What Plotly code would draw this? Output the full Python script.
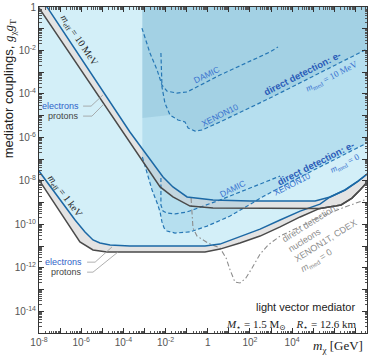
import plotly.graph_objects as go

# ---------------- data: log10(m_chi / GeV) and log10(g_chi g_T) -------------
# NS capture bounds, m_eff = 10 MeV
e10_logm = [-7.70, -3.69, -2.12, -1.65, -0.98, 0.25, 2.00, 4.23, 5.09, 5.80, 6.51, 7.13, 7.60]
e10_logg = [0.12, -5.75, -7.82, -8.28, -8.74, -8.88, -8.93, -8.95, -8.93, -8.74, -8.42, -8.01, -7.65]
p10_logm = [-8.10, -3.69, -2.26, -1.65, -0.84, 0.25, 5.32, 6.32, 6.84, 7.22, 7.60]
p10_logg = [0.10, -6.26, -8.28, -8.74, -9.16, -9.25, -9.27, -9.11, -8.79, -8.42, -8.02]
# NS capture bounds, m_eff = 1 keV
e1_logm = [-8.10, -8.00, -7.00, -6.29, -5.82, -5.44, -5.11, -4.63, -3.69, -0.13, 0.58, 1.53, 2.48,
           3.43, 4.38, 5.32, 5.80, 6.51, 7.13, 7.60]
e1_logg = [-7.42, -7.55, -8.88, -9.80, -10.35, -10.72, -10.86, -10.95, -11.00, -11.00, -10.91, -10.58,
           -10.22, -9.80, -9.39, -9.07, -8.74, -8.42, -8.01, -7.65]
p1_logm = [-8.10, -8.00, -7.00, -6.06, -5.44, -4.78, -0.13, 0.58, 1.53, 2.48, 3.43, 4.38, 5.23, 5.32,
           6.32, 6.84, 7.22, 7.60]
p1_logg = [-7.82, -7.96, -9.43, -10.81, -11.18, -11.27, -11.27, -11.14, -10.86, -10.54, -10.12, -9.66,
           -9.30, -9.27, -9.11, -8.79, -8.42, -8.02]
# direct detection, electrons, m_med = 0
xe0_logm = [-3.10, -2.88, -2.64, -2.40, -2.26, -2.17, -2.07, -1.93, -1.55, -0.84, -0.03, 1.06, 2.67,
            4.00, 5.80, 7.60]
xe0_logg = [-6.90, -7.59, -8.42, -9.02, -9.43, -9.89, -10.17, -10.31, -10.40, -10.35, -10.08, -9.62,
            -8.70, -8.01, -7.13, -6.23]
da0_logm = [-2.22, -2.22, -2.12, -1.93, -1.55, -0.98, 0.58, 2.15, 3.43]
da0_logg = [-7.87, -9.11, -9.39, -9.48, -9.52, -9.43, -8.88, -8.28, -7.78]
# direct detection, electrons, m_med = 10 MeV
xe10_logm = [-2.22, -2.17, -2.03, -1.79, -1.41, -1.08, -0.93, -0.60, -0.27, 0.58, 2.95, 7.60]
xe10_logg = [-2.12, -3.68, -4.42, -4.97, -5.20, -5.29, -5.57, -5.71, -5.66, -5.29, -4.19, -1.91]
da10_logm = [-3.12, -2.74, -2.40, -2.17, -1.93, -1.46, -0.98, 0.58, 2.95, 3.33]
da10_logg = [-0.97, -2.12, -2.90, -3.59, -3.87, -3.96, -3.91, -3.13, -2.07, -1.84]
# direct detection, nucleons (XENON1T, CDEX), m_med = 0
nu_logm = [-0.79, -0.75, -0.70, -0.51, 0.01, 0.58, 0.87, 1.06, 1.29, 1.53, 1.81, 2.10, 2.48, 2.86,
           3.43, 4.42, 5.18, 6.51, 7.55]
nu_logg = [-8.79, -9.57, -10.17, -10.54, -10.86, -11.09, -11.55, -12.10, -12.66, -12.70, -12.47,
           -12.01, -11.37, -10.95, -10.54, -10.08, -9.71, -9.20, -8.84]
# left edge / lower-left corner of the darker direct-detection shading
dd_edge_logm = -3.10
dd10_corner_logg = -5.11

# tick labels
x_tick_exp = list(range(-8, 8))
y_tick_exp = list(range(-15, 1))


def sup_label(k):
    return "1" if k == 0 else "10<sup>%d</sup>" % k


x_ticktext = [sup_label(k) if (k % 2 == 0 and k <= 4) else "" for k in x_tick_exp]
y_ticktext = [sup_label(k) if (k % 2 == 0 and k >= -14) else "" for k in y_tick_exp]

# ---------------- styling ----------------
SANS = "Liberation Sans, Arial, Helvetica, sans-serif"
SERIF = "Liberation Serif, DejaVu Serif, Times New Roman, serif"
CYAN = "#d3eff8"
BAND = "#e3e3e3"
DD0_FILL = "rgba(80,170,210,0.22)"
DD10_FILL = "rgba(70,140,175,0.17)"
BLUE = "#1b68a5"
DARK = "#4a4a4a"
DASH_BLUE = "#2677b5"
NUC_GRAY = "#8c8c8c"
LABEL_BLUE = "#3b74cf"
TOP = 0.1
RIGHT = 7.6
LEFT = -8.1


def pw(a):
    return [10.0 ** v for v in a]


fig = go.Figure()


def fill(xs, ys, color):
    fig.add_trace(go.Scatter(x=pw(xs), y=pw(ys), mode="lines", fill="toself", fillcolor=color,
                             line=dict(width=0), hoverinfo="skip", showlegend=False))


def line(xs, ys, color, width, dash="solid"):
    fig.add_trace(go.Scatter(x=pw(xs), y=pw(ys), mode="lines",
                             line=dict(color=color, width=width, dash=dash),
                             hoverinfo="skip", showlegend=False))


# excluded region (m_eff = 1 keV electrons)
fill(e1_logm + [RIGHT, LEFT], e1_logg + [TOP, TOP], CYAN)
# grey bands between electron and proton curves
fill(e1_logm + p1_logm[::-1], e1_logg + p1_logg[::-1], BAND)
fill(e10_logm + p10_logm[::-1], e10_logg + p10_logg[::-1], BAND)
# direct detection shadings
fill([dd_edge_logm] + xe0_logm + [RIGHT, dd_edge_logm],
     [TOP] + xe0_logg + [TOP, TOP], DD0_FILL)
fill([dd_edge_logm, dd_edge_logm] + xe10_logm[3:] + [RIGHT],
     [TOP, dd10_corner_logg] + xe10_logg[3:] + [TOP], DD10_FILL)

# dashed direct-detection curves
for xs, ys in [(xe10_logm, xe10_logg), (da10_logm, da10_logg), (xe0_logm, xe0_logg), (da0_logm, da0_logg)]:
    line(xs, ys, DASH_BLUE, 1.2, "4px,2.5px")
line(nu_logm, nu_logg, NUC_GRAY, 1.1, "5px,2.5px,1.5px,2.5px")

# capture curves
line(p1_logm, p1_logg, DARK, 1.5)
line(e1_logm, e1_logg, BLUE, 1.5)
line(p10_logm, p10_logg, DARK, 1.5)
line(e10_logm, e10_logg, BLUE, 1.5)

# leader lines of the electrons / protons labels
LEAD = "#9a9a9a"
line([-5.91, -5.53, -4.97], [-4.56, -4.56, -4.05], LEAD, 0.8)
line([-5.91, -5.49, -4.92], [-5.02, -5.02, -4.46], LEAD, 0.8)
line([-5.72, -5.34, -4.54], [-11.74, -11.74, -11.04], LEAD, 0.8)
line([-5.72, -5.44, -4.25], [-12.20, -12.20, -11.27], LEAD, 0.8)

ann = []


def lab(text, x, y, size, color, family=SANS, angle=0, xanchor="center", ref="data", align="center"):
    d = dict(text=text, x=x, y=y, showarrow=False, textangle=angle, xanchor=xanchor, yanchor="middle",
             font=dict(size=size, color=color, family=family), align=align)
    if ref == "data":
        d.update(xref="x", yref="y")
    else:
        d.update(xref="paper", yref="paper")
    ann.append(d)


lab("<i>m</i><sub>eff</sub> = 10 MeV", -6.10, -1.52, 10, "#222", SERIF, 56)
lab("<i>m</i><sub>eff</sub> = 1 keV", -6.77, -8.70, 10, "#222", SERIF, 53)
lab("electrons", -6.01, -4.56, 9, "#2f62c8", xanchor="right")
lab("protons", -6.01, -5.02, 9, "#444", xanchor="right")
lab("electrons", -5.87, -11.74, 9, "#2f62c8", xanchor="right")
lab("protons", -5.87, -12.20, 9, "#444", xanchor="right")
lab("DAMIC", -0.08, -3.13, 8.5, LABEL_BLUE, angle=-26)
lab("XENON10", 0.58, -4.97, 8.5, LABEL_BLUE, angle=-27)
lab("<b>direct detection: e-</b>", 4.47, -3.08, 9.5, "#2a5cb8", angle=-27)
lab("<i>m</i><sub>med</sub> = 10 MeV", 5.89, -3.18, 9, LABEL_BLUE, SERIF, -27)
lab("<b>direct detection: e-</b>", 5.09, -7.18, 9.5, "#2a5cb8", angle=-27)
lab("<i>m</i><sub>med</sub> = 0", 6.51, -7.18, 9, LABEL_BLUE, SERIF, -27)
lab("XENON10", 4.00, -8.15, 8.5, LABEL_BLUE, angle=-27)
lab("DAMIC", 1.15, -8.38, 8.5, LABEL_BLUE, angle=-27)
lab("direct detection:<br>nucleons<br>XENON1T, CDEX<br><i>m</i><sub>med</sub> = 0", 5.47, -10.54, 9,
    NUC_GRAY, angle=-32, align="left")
lab("light vector mediator", 0.814, 0.080, 11, "#222", ref="paper")
lab("<i>M</i><sub>⋆</sub> = 1.5 M<sub>⊙</sub>    <i>R</i><sub>⋆</sub> = 12.6 km", 0.771, 0.0245, 11,
    "#222", SERIF, ref="paper")
lab("<i>m</i><sub>χ</sub> [GeV]", 0.912, -0.040, 13, "#222", SERIF, ref="paper")
lab("mediator couplings, <span style='font-family:Liberation Serif'><i>g</i><sub>χ</sub><i>g</i><sub>T</sub></span>",
    -0.091, 0.748, 13, "#222", angle=-90, ref="paper")

axis_common = dict(type="log", showgrid=False, zeroline=False, showline=True, linecolor="#333",
                   linewidth=1, mirror="allticks", ticks="inside", ticklen=5, tickwidth=0.8,
                   tickcolor="#333", tickfont=dict(family=SANS, size=10, color="#555"),
                   automargin=False,
                   minor=dict(ticks="inside", ticklen=2.5, tickwidth=0.6, tickcolor="#555",
                              dtick="D1", showgrid=False))

fig.update_layout(
    width=374, height=357, margin=dict(l=39, r=7, t=7, b=24, autoexpand=False),
    paper_bgcolor="white", plot_bgcolor="white", showlegend=False,
    xaxis=dict(axis_common, range=[-8, 7.55], tickmode="array",
               tickvals=[10.0 ** k for k in x_tick_exp], ticktext=x_ticktext),
    yaxis=dict(axis_common, range=[-15, 0], tickmode="array",
               tickvals=[10.0 ** k for k in y_tick_exp], ticktext=y_ticktext),
    annotations=ann,
)

# remove the page's default 8px body margin so the figure fills the 374x357 window
fig.write_html("out.html", config={"displayModeBar": False},
               post_script="document.body.style.margin='0';document.body.style.overflow='hidden';")
